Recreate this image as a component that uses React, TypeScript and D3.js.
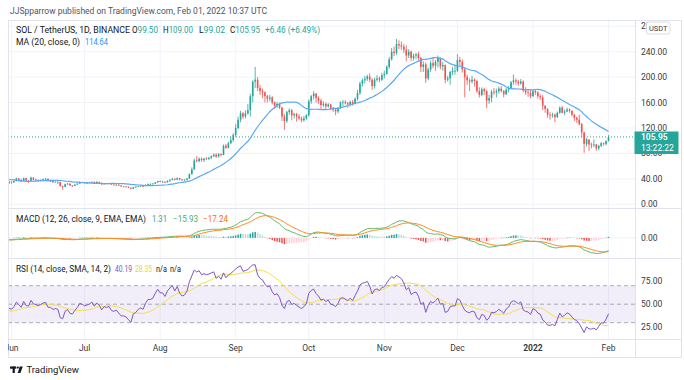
import React from "react";
import * as d3 from "d3";

// ---------- DATA (daily SOL/USDT, Binance, from 2021-05-01) ----------
const startDate = "2021-05-01";
const firstOpen = 44.0;

const closes = [
  // May 2021
  45.0, 43.5, 45.5, 41.0, 42.5, 41.5, 41.0, 42.8, 43.5, 41.0, 43.0, 41.0, 42.0, 47.0, 45.5, 49.5, 47.0, 49.5, 36.0, 40.0, 34.0, 36.0, 30.0, 36.5, 36.0, 39.5, 36.5, 32.5, 31.0, 33.5, 35.5,
  // Jun
  34.5, 36.5, 40.5, 38.5, 36.0, 41.0, 37.5, 37.0, 42.0, 39.0, 38.5, 37.5, 38.5, 39.5, 40.0, 36.5, 36.5, 35.0, 35.5, 35.0, 28.5, 27.5, 31.5, 32.5, 29.5, 29.0, 31.0, 32.5, 35.0, 34.5,
  // Jul
  33.5, 34.0, 34.5, 35.5, 33.5, 35.0, 34.0, 31.5, 33.0, 32.5, 33.0, 31.0, 30.5, 31.0, 29.5, 28.0, 28.0, 27.5, 26.0, 24.5, 27.0, 27.5, 28.5, 29.0, 28.5, 30.5, 32.0, 32.0, 32.5, 34.5, 36.5,
  // Aug
  35.5, 35.5, 34.5, 37.0, 38.5, 40.0, 38.5, 41.0, 39.0, 38.0, 38.5, 40.5, 47.5, 55.0, 69.0, 68.0, 71.5, 69.5, 72.0, 71.5, 73.0, 75.5, 78.0, 75.0, 79.0, 77.5, 92.0, 89.0, 96.0, 101.0, 109.0,
  // Sep
  120, 133, 143, 138, 143, 148, 170, 193, 196, 183, 178, 176, 170, 166, 168, 160, 155, 158, 152, 138, 131, 145, 148, 140, 142, 138, 135, 132, 135, 140,
  // Oct
  162, 170, 174, 167, 163, 156, 158, 154, 157, 150, 149, 146, 151, 160, 161, 159, 157, 161, 158, 166, 175, 190, 195, 197, 201, 196, 186, 196, 198, 196, 203,
  // Nov
  205, 216, 228, 240, 238, 252, 250, 248, 243, 234, 240, 230, 234, 236, 230, 216, 220, 198, 212, 222, 218, 224, 230, 217, 219, 196, 198, 208, 210, 210,
  // Dec
  227, 224, 212, 200, 195, 193, 196, 194, 178, 172, 181, 178, 163, 167, 177, 176, 178, 182, 178, 173, 180, 183, 192, 195, 193, 190, 193, 179, 176, 175, 170,
  // Jan 2022
  178, 176, 170, 168, 155, 150, 141, 140, 141, 137, 144, 152, 144, 146, 149, 147, 141, 136, 133, 126, 113, 95, 102, 94, 93, 94, 88, 92, 96, 95, 99.5,
  // Feb
  105.95,
];

const highs = [
  46.5, 45.5, 46.5, 46.0, 43.5, 43.5, 42.5, 43.5, 44.5, 44.0, 44.0, 45.5, 43.0, 48.5, 48.0, 51.0, 50.0, 53.5, 50.0, 42.0, 42.0, 37.5, 36.0, 38.0, 37.5, 41.0, 40.0, 37.0, 34.0, 34.5, 36.5,
  36.0, 37.5, 42.0, 41.5, 39.5, 42.0, 41.5, 38.0, 43.5, 42.5, 40.0, 39.0, 39.0, 40.5, 41.5, 40.5, 37.5, 37.0, 36.0, 35.5, 35.5, 29.5, 32.5, 33.5, 33.0, 30.0, 31.5, 33.0, 36.0, 35.5,
  35.0, 34.5, 35.0, 36.0, 35.5, 36.5, 36.0, 34.0, 33.5, 33.5, 33.5, 33.5, 31.5, 31.5, 31.5, 30.0, 28.5, 28.5, 28.0, 26.5, 27.5, 28.5, 29.0, 29.5, 29.5, 31.5, 32.5, 33.0, 33.5, 35.0, 37.0,
  37.5, 37.0, 36.0, 37.5, 39.5, 41.5, 41.0, 42.5, 41.5, 40.0, 39.5, 41.0, 48.5, 58.0, 72.0, 76.0, 74.0, 73.5, 73.0, 74.5, 75.0, 77.0, 80.0, 80.5, 80.5, 80.0, 94.0, 95.0, 98.5, 106.0, 112.0,
  126, 138, 147, 145, 148, 158, 174, 195, 216, 200, 188, 182, 178, 172, 172, 170, 162, 161, 160, 153, 142, 147, 151, 150, 144, 144, 142, 138, 139, 142,
  165, 172, 178, 175, 170, 166, 162, 160, 159, 158, 153, 151, 153, 162, 164, 164, 161, 163, 164, 168, 180, 193, 198, 202, 204, 206, 198, 199, 203, 201, 207,
  210, 219, 232, 246, 248, 260, 258, 256, 252, 250, 244, 242, 237, 238, 240, 232, 225, 223, 215, 226, 232, 227, 234, 231, 224, 220, 202, 210, 216, 220,
  236, 232, 228, 214, 204, 198, 202, 198, 196, 184, 184, 183, 180, 172, 180, 183, 182, 185, 186, 180, 183, 186, 194, 204, 198, 196, 197, 195, 184, 180, 181,
  180, 181, 178, 173, 172, 156, 151, 145, 144, 143, 146, 154, 155, 149, 152, 151, 148, 142, 138, 141, 128, 114, 104, 102, 97, 102, 95, 93, 98, 97, 100.5,
  109.0,
];

const lows = [
  42.5, 42.8, 43.0, 40.5, 39.5, 40.5, 39.8, 40.5, 41.5, 39.0, 40.5, 40.0, 36.0, 41.0, 44.5, 43.0, 44.0, 46.5, 25.0, 33.0, 31.0, 32.0, 25.0, 29.0, 32.5, 35.5, 35.5, 31.5, 30.0, 30.0, 32.0,
  32.5, 34.0, 36.0, 35.5, 35.0, 36.0, 36.5, 33.5, 36.0, 38.0, 37.0, 35.5, 36.0, 38.0, 38.5, 36.0, 35.5, 33.5, 34.0, 32.0, 28.0, 22.5, 27.0, 30.5, 29.0, 27.5, 28.5, 30.5, 32.0, 33.5,
  32.5, 32.0, 33.0, 34.0, 33.0, 33.0, 33.5, 30.5, 31.0, 31.5, 32.0, 30.5, 30.0, 29.0, 29.0, 27.5, 27.0, 27.0, 25.5, 23.5, 24.0, 26.5, 27.0, 28.0, 27.5, 28.0, 29.5, 31.0, 31.5, 31.5, 33.5,
  35.0, 34.5, 33.5, 34.0, 35.0, 37.5, 37.5, 38.0, 37.5, 37.5, 37.5, 37.5, 40.0, 46.5, 54.0, 66.0, 66.0, 67.0, 66.5, 70.0, 69.5, 71.0, 74.5, 73.0, 73.5, 75.5, 77.0, 87.0, 88.0, 95.0, 98.0,
  106, 118, 129, 134, 135, 141, 138, 160, 183, 178, 172, 167, 160, 160, 162, 157, 150, 151, 150, 131, 117, 128, 141, 132, 135, 130, 133, 129, 130, 133,
  138, 158, 165, 160, 158, 150, 153, 150, 152, 148, 145, 140, 143, 150, 154, 157, 152, 154, 155, 157, 163, 172, 185, 190, 194, 192, 180, 182, 193, 192, 194,
  198, 204, 213, 226, 233, 235, 244, 243, 238, 225, 230, 225, 226, 228, 226, 208, 208, 191, 195, 208, 214, 210, 215, 212, 210, 190, 193, 188, 203, 204,
  208, 218, 207, 168, 188, 178, 190, 185, 175, 168, 170, 172, 151, 158, 160, 172, 168, 174, 176, 168, 172, 176, 182, 188, 188, 186, 188, 176, 172, 169, 167,
  169, 172, 166, 164, 148, 144, 136, 133, 136, 129, 136, 142, 143, 140, 145, 144, 138, 131, 128, 124, 105, 81, 91, 84, 88, 90, 84, 85, 90, 92, 92.5,
  99.02,
];

const monthLabels = ["Jun", "Jul", "Aug", "Sep", "Oct", "Nov", "Dec", "2022", "Feb"];
const monthDates = ["2021-06-01", "2021-07-01", "2021-08-01", "2021-09-01", "2021-10-01", "2021-11-01", "2021-12-01", "2022-01-01", "2022-02-01"];
const priceTicks = [0, 40, 80, 120, 160, 200, 240, 280];
const rsiTicks = [25, 50, 75];
const rsiLevels = [70, 50, 30];
const lastPrice = 105.95;

// ---------- indicators ----------
function sma(arr: (number | null)[], n: number): (number | null)[] {
  return arr.map((_, i) => {
    if (i < n - 1) return null;
    const w = arr.slice(i - n + 1, i + 1);
    if (w.some((v) => v == null)) return null;
    return d3.mean(w as number[]) as number;
  });
}
function ema(arr: number[], n: number): number[] {
  const k = 2 / (n + 1);
  let prev = arr[0];
  return arr.map((v, i) => {
    prev = i === 0 ? v : v * k + prev * (1 - k);
    return prev;
  });
}
function rsi(arr: number[], n: number): (number | null)[] {
  const out: (number | null)[] = [null];
  let ag = 0, al = 0;
  for (let i = 1; i < arr.length; i++) {
    const ch = arr[i] - arr[i - 1];
    const g = Math.max(ch, 0), l = Math.max(-ch, 0);
    if (i <= n) {
      ag += g; al += l;
      if (i === n) { ag /= n; al /= n; out.push(100 - 100 / (1 + ag / al)); }
      else out.push(null);
    } else {
      ag = (ag * (n - 1) + g) / n;
      al = (al * (n - 1) + l) / n;
      out.push(al === 0 ? 100 : 100 - 100 / (1 + ag / al));
    }
  }
  return out;
}

// ---------- layout ----------
const W = 684, H = 380;
const L = 8, R = 635, FR = 682;
const PT = 20, PB = 208, MB = 258, RB = 339, XB = 357;
const FONT = "Roboto, 'Noto Sans', Arial, sans-serif";
const UP = "#26a69a", DOWN = "#ef5350";
const GRID = "#f0f3fa", BORDER = "#e0e3eb", TXT = "#131722", AX = "#363a45";

type Seg = { t: string; x: number; len: number; fill: string; lead?: string };

function Legend({ y, segs }: { y: number; segs: Seg[] }) {
  return (
    <g fontSize={8.6}>
      {segs.map((s, i) => (
        <text key={i} x={s.x} y={y} fill={s.lead ? TXT : s.fill} textLength={s.len} lengthAdjust="spacingAndGlyphs">
          {s.lead ? <>{s.lead}<tspan fill={s.fill}>{s.t}</tspan></> : s.t}
        </text>
      ))}
    </g>
  );
}

export default function App() {
  const parse = d3.utcParse("%Y-%m-%d");
  const t0 = parse(startDate) as Date;
  const dates = closes.map((_, i) => d3.utcDay.offset(t0, i));
  const opens = closes.map((_, i) => (i === 0 ? firstOpen : closes[i - 1]));

  const x = d3.scaleUtc()
    .domain([parse("2021-06-01") as Date, parse("2022-02-01") as Date])
    .range([11.5, 608.5]);
  const yP = d3.scaleLinear().domain([0, 240]).range([204.3, 51.7]);
  const yR = d3.scaleLinear().domain([30, 70]).range([322.7, 285.7]);

  const ma = sma(closes, 20);
  const e12 = ema(closes, 12), e26 = ema(closes, 26);
  const macd = closes.map((_, i) => e12[i] - e26[i]);
  const signal = ema(macd, 9);
  const hist = macd.map((v, i) => v - signal[i]);
  const rsiV = rsi(closes, 14);
  const rsiMa = sma(rsiV, 14);

  const idx = closes.map((_, i) => i);
  const vis = idx.filter((i) => x(dates[i]) >= L - 3);
  const mv = vis.flatMap((i) => [macd[i], signal[i], hist[i]]);
  const yM = d3.scaleLinear()
    .domain([d3.min(mv) as number, d3.max(mv) as number])
    .range([253.5, 212.5]);

  const lineP = d3.line<number>().defined((i) => ma[i] != null).x((i) => x(dates[i])).y((i) => yP(ma[i] as number));
  const lineMacd = d3.line<number>().x((i) => x(dates[i])).y((i) => yM(macd[i]));
  const lineSig = d3.line<number>().x((i) => x(dates[i])).y((i) => yM(signal[i]));
  const lineRsi = d3.line<number>().defined((i) => rsiV[i] != null).x((i) => x(dates[i])).y((i) => yR(rsiV[i] as number));
  const lineRsiMa = d3.line<number>().defined((i) => rsiMa[i] != null).x((i) => x(dates[i])).y((i) => yR(rsiMa[i] as number));

  const bw = 1.6;
  const months = monthDates.map((d) => parse(d) as Date);

  const histColor = (i: number) => {
    const h = hist[i], p = hist[i - 1] ?? h;
    if (h >= 0) return p < h ? "#26a69a" : "#b2dfdb";
    return p < h ? "#ffcdd2" : "#ef5350";
  };

  return (
    <svg width={W} height={H} style={{ display: "block", position: "absolute", left: 0, top: 0, background: "#fff" }} fontFamily={FONT}>
      <defs>
        <clipPath id="cp"><rect x={L} y={PT} width={R - L} height={PB - PT} /></clipPath>
        <clipPath id="cm"><rect x={L} y={PB} width={R - L} height={MB - PB} /></clipPath>
        <clipPath id="cr"><rect x={L} y={MB} width={R - L} height={RB - MB} /></clipPath>
        <clipPath id="cx"><rect x={L} y={RB} width={R - L} height={XB - RB} /></clipPath>
        <clipPath id="ca"><rect x={R} y={PT} width={FR - R} height={XB - PT} /></clipPath>
      </defs>
      <rect x={0} y={0} width={W} height={H} fill="#fff" />

      {/* header */}
      <text x={10} y={14} fontSize={8.8} fill="#50535e" textLength={257} lengthAdjust="spacingAndGlyphs">JJSpparrow published on TradingView.com, Feb 01, 2022 10:37 UTC</text>

      {/* grid */}
      {months.map((m, i) => (
        <line key={"vg" + i} x1={x(m)} x2={x(m)} y1={PT} y2={RB} stroke={GRID} strokeWidth={1} />
      ))}
      {priceTicks.map((t) => (yP(t) > PT && yP(t) < PB ? (
        <line key={"hg" + t} x1={L} x2={R} y1={yP(t)} y2={yP(t)} stroke={GRID} strokeWidth={1} />
      ) : null))}
      <line x1={L} x2={R} y1={yM(0)} y2={yM(0)} stroke={GRID} strokeWidth={1} />

      {/* price pane */}
      <g clipPath="url(#cp)">
        <line x1={L} x2={R} y1={yP(lastPrice)} y2={yP(lastPrice)} stroke={UP} strokeWidth={1} strokeDasharray="1,2" />
        {vis.map((i) => {
          const o = opens[i], c = closes[i];
          const hi = Math.max(highs[i], o, c), lo = Math.min(lows[i], o, c);
          const col = c >= o ? UP : DOWN;
          const cx = x(dates[i]);
          const top = yP(Math.max(o, c)), bot = yP(Math.min(o, c));
          return (
            <g key={"c" + i}>
              <line x1={cx} x2={cx} y1={yP(hi)} y2={yP(lo)} stroke={col} strokeWidth={0.8} />
              <rect x={cx - bw / 2} y={top} width={bw} height={Math.max(bot - top, 0.8)} fill={col} />
            </g>
          );
        })}
        <path d={lineP(vis) || ""} fill="none" stroke="#5aa9f2" strokeWidth={1.2} />
      </g>

      {/* MACD pane */}
      <g clipPath="url(#cm)">
        {vis.map((i) => {
          const y0 = yM(0), y1 = yM(hist[i]);
          return <rect key={"h" + i} x={x(dates[i]) - 0.75} y={Math.min(y0, y1)} width={1.5} height={Math.max(Math.abs(y1 - y0), 0.4)} fill={histColor(i)} />;
        })}
        <path d={lineMacd(vis) || ""} fill="none" stroke="#66bb6a" strokeWidth={1} />
        <path d={lineSig(vis) || ""} fill="none" stroke="#ff8a1f" strokeWidth={1} />
      </g>

      {/* RSI pane */}
      <g clipPath="url(#cr)">
        <rect x={L} y={yR(70)} width={R - L} height={yR(30) - yR(70)} fill="rgba(126,87,194,0.1)" />
        {rsiLevels.map((lv) => (
          <line key={"rl" + lv} x1={L} x2={R} y1={yR(lv)} y2={yR(lv)} stroke="#9598a1" strokeWidth={0.8} strokeDasharray="4,3" />
        ))}
        <path d={lineRsiMa(vis) || ""} fill="none" stroke="#f2df4a" strokeWidth={1} />
        <path d={lineRsi(vis) || ""} fill="none" stroke="#7e57c2" strokeWidth={1} />
      </g>

      {/* frame */}
      <g stroke={BORDER} strokeWidth={1} fill="none">
        <rect x={L + 0.5} y={PT + 0.5} width={FR - L - 1} height={XB - PT} />
        <line x1={R + 0.5} x2={R + 0.5} y1={PT} y2={XB} />
        <line x1={L} x2={FR} y1={PB + 0.5} y2={PB + 0.5} />
        <line x1={L} x2={FR} y1={MB + 0.5} y2={MB + 0.5} />
        <line x1={L} x2={FR} y1={RB + 0.5} y2={RB + 0.5} />
      </g>

      {/* price axis labels */}
      <g clipPath="url(#ca)">
        {priceTicks.map((t) => (
          <text key={"pl" + t} x={641} y={yP(t) + 3} fontSize={8.5} fill={AX}>{t.toFixed(2)}</text>
        ))}
      </g>
      <rect x={646.5} y={22} width={23.5} height={12} rx={2} fill="#fff" stroke="#d1d4dc" strokeWidth={0.8} />
      <text x={658.25} y={30.8} fontSize={7.4} fill={AX} textAnchor="middle">USDT</text>
      <rect x={634.5} y={131.5} width={44} height={22.5} fill={UP} />
      <text x={641} y={140} fontSize={8.5} fill="#fff" fontWeight={600}>{lastPrice.toFixed(2)}</text>
      <text x={641} y={150.5} fontSize={8.5} fill="#fff">13:22:22</text>

      {/* MACD axis */}
      <text x={641} y={yM(0) + 3} fontSize={8.5} fill={AX}>0.00</text>
      {/* RSI axis */}
      {rsiTicks.map((t) => (
        <text key={"rt" + t} x={641} y={yR(t) + 3} fontSize={8.5} fill={AX}>{t.toFixed(2)}</text>
      ))}

      {/* time axis */}
      <g clipPath="url(#cx)">
        {months.map((m, i) => (
          <text key={"ml" + i} x={x(m)} y={351} fontSize={8.5} fill={AX} textAnchor="middle" fontWeight={monthLabels[i] === "2022" ? 700 : 400}>{monthLabels[i]}</text>
        ))}
      </g>

      {/* legends */}
      <Legend y={33} segs={[
        { t: "SOL / TetherUS, 1D, BINANCE", x: 16, len: 114, fill: TXT },
        { t: "99.50", lead: "O", x: 132, len: 26, fill: UP },
        { t: "109.00", lead: "H", x: 163, len: 30, fill: UP },
        { t: "99.02", lead: "L", x: 199, len: 26, fill: UP },
        { t: "105.95", lead: "C", x: 230, len: 30, fill: UP },
        { t: "+6.46 (+6.49%)", x: 265, len: 55, fill: UP },
      ]} />
      <Legend y={45} segs={[
        { t: "MA (20, close, 0)", x: 16, len: 64, fill: TXT },
        { t: "114.64", x: 85, len: 23, fill: "#2196f3" },
      ]} />
      <Legend y={222} segs={[
        { t: "MACD (12, 26, close, 9, EMA, EMA)", x: 16, len: 130, fill: TXT },
        { t: "1.31", x: 152, len: 15, fill: UP },
        { t: "−15.93", x: 173, len: 25, fill: "#4caf50" },
        { t: "−17.24", x: 203, len: 25, fill: "#ff6d00" },
      ]} />
      <Legend y={272} segs={[
        { t: "RSI (14, close, SMA, 14, 2)", x: 16, len: 95, fill: TXT },
        { t: "40.19", x: 115, len: 17, fill: "#7e57c2" },
        { t: "28.35", x: 135, len: 17, fill: "#e6d43c" },
        { t: "n/a", x: 156, len: 11, fill: TXT },
        { t: "n/a", x: 170, len: 11, fill: TXT },
      ]} />

      {/* footer logo */}
      <g fill={TXT}>
        <rect x={10} y={366.5} width={6.2} height={2.2} />
        <rect x={12.6} y={366.5} width={2.2} height={6.5} />
        <circle cx={17.8} cy={367.6} r={1.1} />
        <polygon points="19.6,366.5 22.8,366.5 20.4,373 17.6,373 18.6,370.4" />
      </g>
      <text x={26.5} y={373} fontSize={9.5} fill={TXT}>TradingView</text>
    </svg>
  );
}
